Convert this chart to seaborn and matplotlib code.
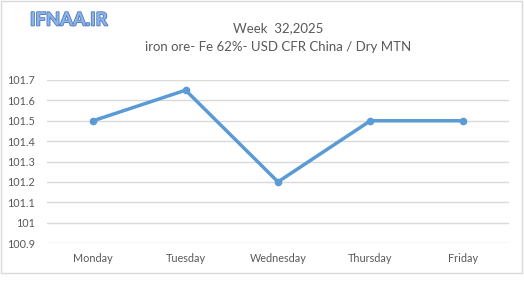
import matplotlib
matplotlib.use("Agg")
import matplotlib.pyplot as plt
import matplotlib.patheffects as pe
from matplotlib.patches import Rectangle
import seaborn as sns
import pandas as pd

days = ["Monday", "Tuesday", "Wednesday", "Thursday", "Friday"]
prices = [101.5, 101.65, 101.2, 101.5, 101.5]
yticks = [100.9, 101.0, 101.1, 101.2, 101.3, 101.4, 101.5, 101.6, 101.7]
ytick_labels = ["100.9", "101", "101.1", "101.2", "101.3", "101.4", "101.5", "101.6", "101.7"]

sns.set_theme(style="white")
plt.rcParams['font.family'] = ['Lato', 'DejaVu Sans']

W, H = 524, 293
fig = plt.figure(figsize=(W / 100, H / 100), dpi=100)
ax = fig.add_axes([47 / W, (H - 243) / H, (509 - 47) / W, (243 - 80) / H])

df = pd.DataFrame({"day": days, "price": prices})
df["x"] = range(len(days))
sns.lineplot(data=df, x="x", y="price", ax=ax, color="#5B9BD5", linewidth=2.5,
             marker="o", markersize=5.5, markeredgewidth=0, sort=False)

ax.set_xlim(-0.5, len(days) - 0.5)
ax.set_ylim(100.9, 101.7)
ax.set_yticks(yticks)
ax.set_yticklabels(ytick_labels)
ax.set_xticks(range(len(days)))
ax.set_xticklabels(days)
ax.yaxis.grid(True, color="#D9D9D9", linewidth=1)
ax.xaxis.grid(False)
for s in ax.spines.values():
    s.set_visible(False)
ax.tick_params(axis="both", length=0, labelsize=7.8, colors="#595959")
ax.tick_params(axis="y", pad=8.5)
ax.tick_params(axis="x", pad=7.5)
ax.set_xlabel("")
ax.set_ylabel("")

fig.text(278 / W, 1 - 28 / H, "Week  32,2025", ha="center", va="center",
         fontsize=9.5, color="#595959")
fig.text(278 / W, 1 - 47 / H, "iron ore- Fe 62%- USD CFR China / Dry MTN", ha="center",
         va="center", fontsize=9.5, color="#595959")
fig.text(30 / W, 1 - 20 / H, "IFNAA.IR", ha="left", va="center", fontsize=13.3,
         fontweight="bold", color="#8FB4E3",
         path_effects=[pe.withStroke(linewidth=1.2, foreground="#4A78C2")])

fig.patches.append(Rectangle((1 / W, 1 - 273 / H), 521 / W, 272 / H, transform=fig.transFigure,
                             fill=False, edgecolor="#D9D9D9", linewidth=1))

fig.savefig("out.png", dpi=100, facecolor="white")
